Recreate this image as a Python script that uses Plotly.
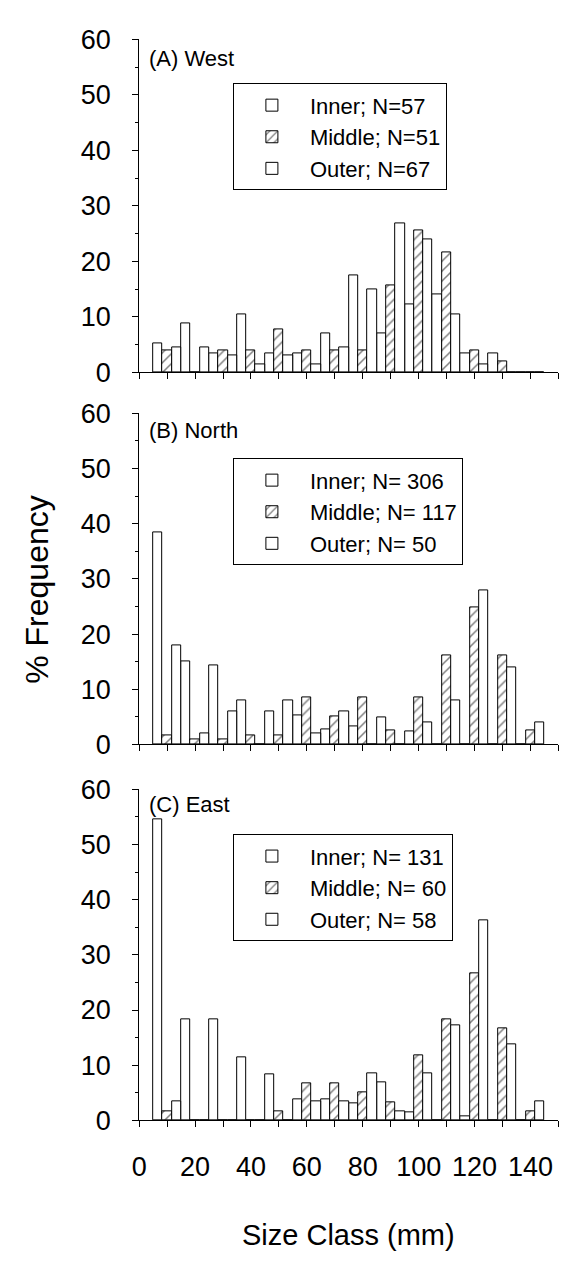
import plotly.graph_objects as go

size_class = [10, 20, 30, 40, 50, 60, 70, 80, 90, 100, 110, 120, 130, 140]

west_inner = [5.3, 8.8, 3.5, 10.5, 3.5, 3.5, 7.0, 17.5, 7.0, 12.3, 14.0, 3.5, 3.5, 0]
west_middle = [3.9, 0, 3.9, 3.9, 7.8, 3.9, 3.9, 3.9, 15.7, 25.5, 21.6, 3.9, 2.0, 0]
west_outer = [4.5, 4.5, 3.0, 1.5, 3.0, 1.5, 4.5, 14.9, 26.9, 23.9, 10.4, 1.5, 0, 0]

north_inner = [38.5, 15.0, 14.4, 8.0, 5.9, 5.2, 2.8, 3.3, 4.9, 2.3, 0, 0, 0, 0]
north_middle = [1.7, 0.9, 0.9, 1.7, 1.7, 8.5, 5.1, 8.5, 2.6, 8.5, 16.2, 24.8, 16.2, 2.6]
north_outer = [18, 2, 6, 0, 8, 2, 6, 0, 0, 4, 8, 28, 14, 4]

east_inner = [54.5, 18.3, 18.3, 11.5, 8.4, 3.8, 3.8, 3.1, 6.9, 1.5, 0, 0.8, 0, 0]
east_middle = [1.7, 0, 0, 0, 1.7, 6.7, 6.7, 5.0, 3.3, 11.7, 18.3, 26.7, 16.7, 1.7]
east_outer = [3.4, 0, 0, 0, 0, 3.4, 3.4, 8.6, 1.7, 8.6, 17.2, 36.2, 13.8, 3.4]

panels = [
    ("(A) West", west_inner, west_middle, west_outer, ["Inner; N=57", "Middle; N=51", "Outer; N=67"]),
    ("(B) North", north_inner, north_middle, north_outer, ["Inner; N= 306", "Middle; N= 117", "Outer; N= 50"]),
    ("(C) East", east_inner, east_middle, east_outer, ["Inner; N= 131", "Middle; N= 60", "Outer; N= 58"]),
]

W, H = 587, 1276
FONT = "Liberation Sans, Arial, sans-serif"
x_left, x_right = 133, 558
# (y pixel of value 60, y pixel of value 0)
panel_px = [(25, 366), (408, 747), (793, 1132)]
title_off = [20, 18, 15]
legend_top = [70, 454, 839]

fig = go.Figure()
plain = dict(color="white", line=dict(color="black", width=1))
hatch = dict(color="white", line=dict(color="black", width=1),
             pattern=dict(shape="/", fgcolor="black", bgcolor="white", size=7, solidity=0.22))

for i, (title, inn, mid, out, names) in enumerate(panels):
    k = "" if i == 0 else str(i + 1)
    lg = "legend" if i == 0 else "legend" + str(i + 1)
    for vals, name, mk in ((inn, names[0], plain), (mid, names[1], hatch), (out, names[2], plain)):
        fig.add_trace(go.Bar(x=size_class, y=vals, name=name, marker=mk,
                             xaxis="x" + k, yaxis="y" + k, legend=lg, width=10 / 3,
                             offsetgroup=name[:5]))
    top, bot = panel_px[i]
    ydom = [1 - bot / H, 1 - top / H]
    last = i == 2
    fig.layout["xaxis" + k] = dict(
        domain=[x_left / W, x_right / W], range=[0, 150], anchor="y" + k,
        tickvals=list(range(0, 151, 10)),
        ticktext=[str(v) if (v % 20 == 0 and v <= 140 and last) else "" for v in range(0, 151, 10)],
        ticks="outside", ticklen=6, tickwidth=1, tickcolor="black",
        showline=True, linecolor="black", linewidth=1, showgrid=False, zeroline=False,
        tickfont=dict(size=27, family=FONT, color="black"), ticklabelstandoff=16,
    )
    fig.layout["yaxis" + k] = dict(
        domain=ydom, range=[0, 60], anchor="x" + k,
        tickvals=list(range(0, 61, 10)), ticks="outside", ticklen=6, tickwidth=1, tickcolor="black",
        minor=dict(dtick=5, ticks="outside", ticklen=3, tickcolor="black"),
        showline=True, linecolor="black", linewidth=1, showgrid=False, zeroline=False,
        tickfont=dict(size=27, family=FONT, color="black"), ticklabelstandoff=16,
    )
    fig.add_annotation(text=title, xref="paper", yref="paper", x=141 / W, y=1 - (top + title_off[i]) / H,
                       xanchor="left", yanchor="middle", showarrow=False,
                       font=dict(size=22, family=FONT, color="black"))
    fig.layout[lg] = dict(x=228 / W, y=1 - legend_top[i] / H, xanchor="left", yanchor="top",
                          bordercolor="black", borderwidth=1, bgcolor="white",
                          font=dict(size=22, family=FONT, color="black"),
                          entrywidth=244, tracegroupgap=0, itemwidth=66)

fig.add_annotation(text="% Frequency", xref="paper", yref="paper", x=30 / W, y=1 - 588 / H,
                   textangle=-90, showarrow=False, xanchor="center", yanchor="middle",
                   font=dict(size=32, family=FONT, color="black"))
fig.add_annotation(text="Size Class (mm)", xref="paper", yref="paper", x=345 / W, y=1 - 1249 / H,
                   showarrow=False, xanchor="center", yanchor="middle",
                   font=dict(size=29, family=FONT, color="black"))

fig.update_layout(width=W, height=H, margin=dict(l=0, r=0, t=0, b=0),
                  paper_bgcolor="white", plot_bgcolor="white", barmode="group",
                  bargap=0, bargroupgap=0, showlegend=True)

fig.write_html("out.html")
